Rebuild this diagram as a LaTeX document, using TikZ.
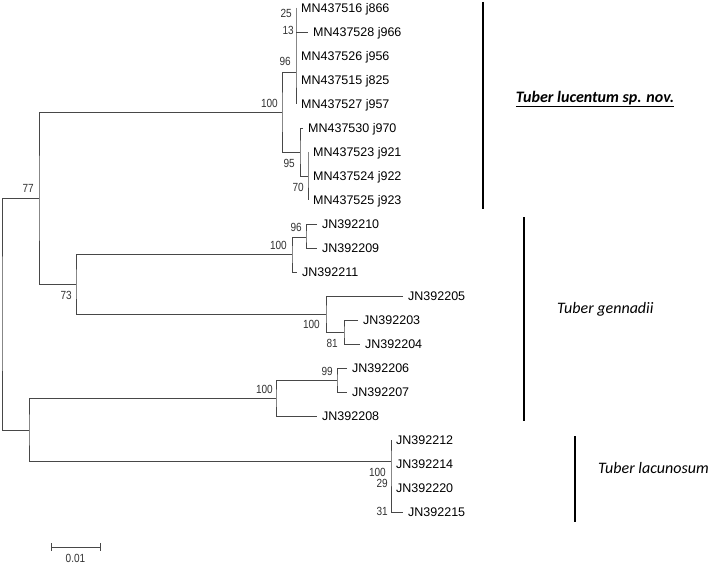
\documentclass[tikz,border=0pt]{standalone}
\usepackage{fontspec}
\setmainfont{Liberation Sans}
\newfontfamily\bsfont[FakeStretch=0.85]{Liberation Sans}
\newfontfamily\cladefont{Carlito}
\begin{document}
\begin{tikzpicture}[x=1pt,y=-1pt,
 br/.style={draw=black!72, line width=0.9pt, line join=miter},
 tip/.style={anchor=west, inner xsep=5pt, inner ysep=0pt, text height=9pt, text depth=0pt, font=\fontsize{12.5}{14}\selectfont},
 bs/.style={anchor=east, inner sep=0pt, font=\bsfont\fontsize{11.8}{13}\selectfont, text=black!80},
 cbar/.style={draw=black, line width=2pt},
 clade/.style={anchor=west, inner sep=0pt, font=\cladefont\fontsize{16}{19}\selectfont\itshape},
 cladeb/.style={inner sep=0pt, font=\cladefont\fontsize{16}{19}\selectfont\bfseries\itshape}]
\useasboundingbox[fill=white] (0,0) rectangle (709,564);

% tips
\node[tip] (t1) at (296,8) {MN437516 j866};
\node[tip] (t2) at (308,32) {MN437528 j966};
\node[tip] (t3) at (296,56) {MN437526 j956};
\node[tip] (t4) at (296,80) {MN437515 j825};
\node[tip] (t5) at (296,104) {MN437527 j957};
\node[tip] (t6) at (303,128) {MN437530 j970};
\node[tip] (t7) at (308,152) {MN437523 j921};
\node[tip] (t8) at (308,176) {MN437524 j922};
\node[tip] (t9) at (308,200) {MN437525 j923};
\node[tip] (t10) at (317,224) {JN392210};
\node[tip] (t11) at (317,248) {JN392209};
\node[tip] (t12) at (297,272) {JN392211};
\node[tip] (t13) at (403,296) {JN392205};
\node[tip] (t14) at (358,320) {JN392203};
\node[tip] (t15) at (360,344) {JN392204};
\node[tip] (t16) at (347,368) {JN392206};
\node[tip] (t17) at (347,392) {JN392207};
\node[tip] (t18) at (317,416) {JN392208};
\node[tip] (t19) at (391,440) {JN392212};
\node[tip] (t20) at (391,464) {JN392214};
\node[tip] (t21) at (391,488) {JN392220};
\node[tip] (t22) at (403,512) {JN392215};

% internal nodes
\coordinate (R) at (2,313);
\coordinate (n77) at (39,198);
\coordinate (nA) at (282,112);
\coordinate (nB) at (296,72);
\coordinate (nC) at (300,152);
\coordinate (nD) at (308,176);
\coordinate (n73) at (76,284);
\coordinate (nE) at (292,254);
\coordinate (nF) at (306,237);
\coordinate (nG) at (326,314);
\coordinate (nH) at (344,332);
\coordinate (nI) at (29,430);
\coordinate (nJ) at (276,398);
\coordinate (nK) at (337,380);
\coordinate (nL) at (391,461);

% branches
\draw[br] (n77) -| (R) |- (nI);
\draw[br] (nA) -| (n77) |- (n73);
\draw[br] (nB) -| (nA) |- (nC);
\draw[br] (t1.west) -| (nB) |- (t5.west);
\draw[br] (nB |- t2.west) -- (t2.west);
\draw[br] (t6.west) -| (nC) |- (nD);
\draw[br] (t7.west) -| (nD) |- (t9.west);
\draw[br] (nE) -| (n73) |- (nG);
\draw[br] (nF) -| (nE) |- (t12.west);
\draw[br] (t10.west) -| (nF) |- (t11.west);
\draw[br] (t13.west) -| (nG) |- (nH);
\draw[br] (t14.west) -| (nH) |- (t15.west);
\draw[br] (nJ) -| (nI) |- (nL);
\draw[br] (nK) -| (nJ) |- (t18.west);
\draw[br] (t16.west) -| (nK) |- (t17.west);
\draw[br] (t19.west) -| (nL) |- (t22.west);

% bootstrap values
\node[bs] (b1) at (292,13) {25};
\node[bs] (b2) at (294,30) {13};
\node[bs] (b3) at (291,61) {96};
\node[bs] (b4) at (278,103) {100};
\node[bs] (b5) at (295,163) {95};
\node[bs] (b6) at (304,187) {70};
\node[bs] (b7) at (34,188) {77};
\node[bs] (b8) at (72,295) {73};
\node[bs] (b9) at (302,227) {96};
\node[bs] (b10) at (287,245) {100};
\node[bs] (b11) at (320,324) {100};
\node[bs] (b12) at (338,343) {81};
\node[bs] (b13) at (333,371) {99};
\node[bs] (b14) at (273,389) {100};
\node[bs] (b15) at (386,472) {100};
\node[bs] (b16) at (388,483) {29};
\node[bs] (b17) at (388,511) {31};

% scale bar
\coordinate (s1) at (51,547);
\coordinate (s2) at (100,547);
\draw[br] (s1) -- (s2);
\draw[br] (51,543) -- (51,551);
\draw[br] (100,543) -- (100,551);
\node[bs, anchor=center] (sc) at (75.5,558) {0.01};

% clade bars
\coordinate (c1a) at (483,2); \coordinate (c1b) at (483,209);
\coordinate (c2a) at (524,217); \coordinate (c2b) at (524,421);
\coordinate (c3a) at (575,436); \coordinate (c3b) at (575,522);
\draw[cbar] (c1a) -- (c1b);
\draw[cbar] (c2a) -- (c2b);
\draw[cbar] (c3a) -- (c3b);
\node[cladeb] (L1) at (595,99) {\underline{Tuber lucentum sp. nov.}};
\node[clade] (L2) at (557,309) {Tuber gennadii};
\node[clade] (L3) at (598,468) {Tuber lacunosum};
\end{tikzpicture}
\end{document}
